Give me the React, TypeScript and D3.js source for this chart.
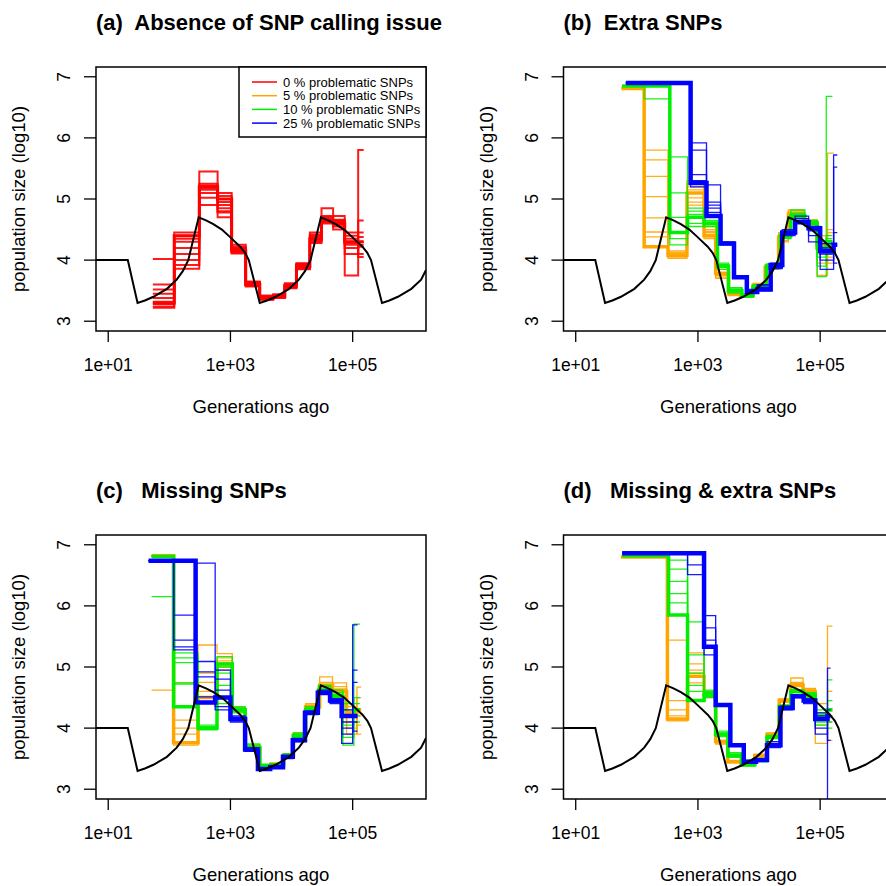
import React from "react";
import * as d3 from "d3";

// true demographic history (log10 generations, log10 Ne)
const truthLogGen = [0.8, 1.32, 1.48, 1.6, 1.74, 1.96, 2.12, 2.22, 2.31, 2.48, 2.6, 2.72, 2.86, 2.99, 3.16, 3.24, 3.3, 3.48, 3.6, 3.74, 3.96, 4.12, 4.22, 4.31, 4.48, 4.6, 4.72, 4.86, 4.99, 5.16, 5.24, 5.3, 5.48, 5.6, 5.74, 5.96, 6.12, 6.2];
const truthLogNe = [4.0, 4.0, 3.3, 3.34, 3.4, 3.53, 3.68, 3.82, 4.0, 4.7, 4.65, 4.59, 4.5, 4.38, 4.22, 4.12, 4.0, 3.3, 3.34, 3.4, 3.53, 3.68, 3.82, 4.0, 4.7, 4.65, 4.59, 4.5, 4.38, 4.22, 4.12, 4.0, 3.3, 3.34, 3.4, 3.53, 3.68, 3.84];

// (a) 0 % problematic SNPs
const aRedBreaks = [1.73, 2.08, 2.49, 2.79, 3.02, 3.25, 3.48, 3.7, 3.89, 4.08, 4.3, 4.49, 4.68, 4.87, 5.09, 5.18];
const aRedMain = [3.3, 4.4, 5.2, 5.0, 4.15, 3.6, 3.38, 3.4, 3.58, 3.9, 4.35, 4.65, 4.6, 4.3, 4.3];
const aRedReps = [
  [4.02, 4.45, 5.25, 4.95, 4.18, 3.62, 3.38, 3.4, 3.58, 3.92, 4.4, 4.7, 4.65, 4.35, 5.8],
  [3.6, 4.3, 5.45, 5.1, 4.12, 3.6, 3.36, 3.42, 3.6, 3.95, 4.3, 4.85, 4.72, 4.45, 4.65],
  [3.52, 4.2, 5.2, 4.85, 4.22, 3.65, 3.4, 3.38, 3.55, 3.88, 4.45, 4.62, 4.55, 4.2, 4.45],
  [3.45, 4.1, 5.15, 5.05, 4.15, 3.58, 3.35, 3.4, 3.62, 3.85, 4.35, 4.6, 4.62, 3.75, 4.3],
  [3.38, 4.0, 4.9, 4.78, 4.25, 3.62, 3.42, 3.44, 3.56, 3.9, 4.28, 4.68, 4.58, 4.3, 4.1],
  [3.32, 3.92, 5.1, 4.9, 4.14, 3.64, 3.37, 3.39, 3.58, 3.93, 4.38, 4.65, 4.6, 4.28, 4.22],
  [3.28, 4.4, 5.22, 5.0, 4.2, 3.6, 3.39, 3.41, 3.6, 3.86, 4.42, 4.66, 4.66, 4.4, 4.05],
  [3.24, 3.86, 5.18, 4.7, 4.16, 3.57, 3.36, 3.43, 3.54, 3.91, 4.32, 4.63, 4.5, 4.1, 4.38],
  [3.22, 4.35, 5.02, 4.8, 4.11, 3.63, 3.41, 3.4, 3.59, 3.94, 4.34, 4.72, 4.64, 4.25, 4.25],
];

// (b) extra SNPs
const bOrangeBreaks = [1.75, 2.12, 2.51, 2.82, 3.1, 3.29, 3.5, 3.7, 3.9, 4.1, 4.32, 4.48, 4.73, 4.95, 5.12, 5.22];
const bOrangeMain = [6.81, 4.22, 4.08, 5.1, 4.4, 3.78, 3.45, 3.42, 3.58, 3.88, 4.38, 4.75, 4.62, 4.25, 4.2];
const bOrangeReps = [
  [6.81, 5.8, 4.05, 5.25, 4.5, 3.85, 3.48, 3.4, 3.55, 3.9, 4.45, 4.8, 4.65, 4.4, 5.75],
  [6.81, 5.64, 4.12, 5.3, 4.35, 3.72, 3.42, 3.44, 3.6, 3.85, 4.32, 4.72, 4.6, 3.75, 4.45],
  [6.81, 5.37, 4.15, 5.02, 4.45, 3.8, 3.5, 3.41, 3.57, 3.92, 4.4, 4.78, 4.66, 4.1, 4.3],
  [6.81, 5.04, 4.03, 4.95, 4.55, 3.75, 3.44, 3.43, 3.62, 3.87, 4.36, 4.7, 4.58, 4.3, 4.05],
  [6.81, 4.69, 4.1, 5.15, 4.38, 3.88, 3.46, 3.39, 3.56, 3.89, 4.3, 4.76, 4.63, 3.95, 4.5],
  [6.81, 4.46, 4.07, 5.2, 4.42, 3.7, 3.47, 3.42, 3.59, 3.86, 4.42, 4.82, 4.61, 4.2, 3.95],
  [6.81, 4.38, 4.13, 4.9, 4.47, 3.76, 3.45, 3.41, 3.58, 3.88, 4.37, 4.74, 4.62, 4.15, 4.25],
];
const bGreenBreaks = [1.76, 2.12, 2.54, 2.83, 3.1, 3.32, 3.5, 3.72, 3.9, 4.12, 4.35, 4.52, 4.75, 4.95, 5.1, 5.2];
const bGreenMain = [6.85, 6.85, 4.45, 4.7, 4.6, 3.9, 3.5, 3.42, 3.55, 3.9, 4.4, 4.72, 4.6, 4.2, 4.3];
const bGreenReps = [
  [6.85, 6.64, 5.69, 4.85, 4.62, 3.95, 3.55, 3.4, 3.55, 3.92, 4.45, 4.82, 4.65, 3.73, 6.68],
  [6.85, 6.85, 5.1, 4.6, 4.55, 3.85, 3.46, 3.44, 3.58, 3.88, 4.35, 4.75, 4.55, 4.3, 4.4],
  [6.85, 6.85, 4.7, 4.75, 4.65, 3.88, 3.52, 3.41, 3.52, 3.94, 4.38, 4.7, 4.62, 4.05, 4.25],
  [6.85, 6.85, 4.35, 4.55, 4.58, 3.92, 3.48, 3.43, 3.6, 3.86, 4.42, 4.68, 4.58, 4.15, 4.1],
  [6.85, 6.85, 4.25, 4.8, 4.62, 3.93, 3.54, 3.39, 3.56, 3.91, 4.36, 4.77, 4.64, 3.9, 4.35],
];
const bBlueBreaks = [1.82, 2.88, 3.14, 3.37, 3.59, 3.8, 3.97, 4.19, 4.38, 4.59, 4.81, 5.0, 5.22, 5.28];
const bBlueMain = [6.9, 5.26, 4.72, 4.27, 3.72, 3.48, 3.52, 3.92, 4.45, 4.62, 4.52, 4.15, 4.25];
const bBlueReps = [
  [6.9, 5.92, 5.23, 4.27, 3.72, 3.5, 3.55, 3.95, 4.5, 4.72, 4.55, 3.85, 5.72],
  [6.9, 5.8, 4.95, 4.3, 3.7, 3.46, 3.6, 3.88, 4.4, 4.65, 4.5, 4.27, 5.52],
  [6.9, 5.4, 4.85, 4.25, 3.74, 3.52, 3.5, 3.9, 4.42, 4.6, 4.48, 4.0, 4.45],
  [6.9, 5.3, 4.78, 4.28, 3.71, 3.49, 3.58, 3.93, 4.47, 4.68, 4.3, 4.2, 4.25],
  [6.9, 5.2, 4.9, 4.26, 3.73, 3.47, 3.53, 3.86, 4.44, 4.63, 4.4, 4.1, 3.95],
];

// (c) missing SNPs
const cOrangeBreaks = [1.71, 2.07, 2.47, 2.78, 3.03, 3.24, 3.48, 3.66, 3.87, 4.03, 4.23, 4.46, 4.67, 4.9, 5.07, 5.14];
const cOrangeMain = [6.82, 3.76, 4.5, 5.05, 4.3, 3.68, 3.38, 3.41, 3.56, 3.88, 4.35, 4.7, 4.6, 4.25, 4.3];
const cOrangeReps = [
  [4.62, 3.72, 5.36, 5.22, 4.32, 3.7, 3.4, 3.39, 3.58, 3.9, 4.4, 4.84, 4.74, 3.9, 4.67],
  [6.82, 4.13, 4.9, 5.1, 4.28, 3.66, 3.37, 3.42, 3.54, 3.86, 4.38, 4.75, 4.68, 4.1, 4.5],
  [6.82, 4.0, 4.75, 5.0, 4.34, 3.72, 3.39, 3.4, 3.57, 3.92, 4.33, 4.72, 4.62, 4.2, 3.9],
  [6.82, 3.9, 4.6, 4.95, 4.26, 3.64, 3.36, 3.41, 3.55, 3.87, 4.36, 4.68, 4.58, 4.35, 4.2],
  [6.82, 4.74, 4.4, 5.15, 4.31, 3.69, 3.38, 3.43, 3.56, 3.89, 4.34, 4.66, 4.64, 4.0, 4.05],
];
const cGreenBreaks = [1.71, 2.07, 2.47, 2.78, 3.03, 3.24, 3.48, 3.66, 3.87, 4.03, 4.23, 4.44, 4.64, 4.84, 5.02, 5.12];
const cGreenMain = [6.81, 4.35, 4.0, 5.05, 4.3, 3.68, 3.38, 3.4, 3.55, 3.88, 4.3, 4.62, 4.52, 4.2, 4.3];
const cGreenReps = [
  [6.15, 5.23, 4.02, 5.17, 4.35, 3.72, 3.4, 3.38, 3.57, 3.9, 4.35, 4.68, 4.55, 3.72, 5.7],
  [6.81, 5.07, 3.98, 5.0, 4.28, 3.65, 3.36, 3.42, 3.53, 3.86, 4.28, 4.6, 4.58, 4.4, 4.5],
  [6.81, 4.74, 4.05, 4.9, 4.25, 3.7, 3.39, 3.41, 3.56, 3.92, 4.32, 4.64, 4.5, 4.05, 4.2],
  [6.81, 5.15, 3.97, 4.7, 4.33, 3.62, 3.37, 3.39, 3.54, 3.85, 4.26, 4.7, 4.48, 3.85, 4.1],
  [6.81, 4.72, 4.01, 4.4, 4.31, 3.74, 3.41, 3.4, 3.58, 3.89, 4.33, 4.58, 4.62, 4.3, 4.4],
];
const cBlueBreaks = [1.66, 2.07, 2.43, 2.75, 3.0, 3.24, 3.45, 3.65, 3.86, 4.02, 4.22, 4.43, 4.63, 4.82, 5.0, 5.08];
const cBlueMain = [6.74, 6.74, 4.42, 4.5, 4.15, 3.65, 3.33, 3.36, 3.53, 3.8, 4.25, 4.58, 4.45, 4.2, 4.2];
const cBlueReps = [
  [6.74, 6.74, 6.7, 4.3, 4.18, 3.62, 3.34, 3.38, 3.5, 3.82, 4.28, 4.55, 4.48, 3.75, 5.69],
  [6.74, 5.85, 5.09, 4.95, 4.12, 3.66, 3.32, 3.35, 3.55, 3.78, 4.22, 4.6, 4.42, 4.0, 4.95],
  [6.74, 5.44, 4.92, 4.8, 4.2, 3.68, 3.35, 3.37, 3.52, 3.81, 4.26, 4.62, 4.44, 4.3, 4.75],
  [6.74, 5.33, 4.84, 4.62, 4.1, 3.63, 3.33, 3.36, 3.54, 3.79, 4.24, 4.57, 4.4, 3.9, 4.1],
  [6.74, 5.28, 4.51, 4.35, 4.16, 3.64, 3.34, 3.39, 3.51, 3.83, 4.27, 4.56, 4.46, 4.1, 3.95],
];

// (d) missing & extra SNPs
const dOrangeBreaks = [1.74, 2.5, 2.83, 3.1, 3.29, 3.49, 3.71, 3.93, 4.13, 4.33, 4.52, 4.72, 4.92, 5.12, 5.2];
const dOrangeMain = [6.8, 4.15, 4.85, 4.55, 3.78, 3.45, 3.42, 3.55, 3.9, 4.45, 4.7, 4.6, 4.2, 4.3];
const dOrangeReps = [
  [6.8, 5.44, 5.23, 4.58, 3.8, 3.47, 3.4, 3.56, 3.92, 4.47, 4.82, 4.65, 3.75, 5.67],
  [6.8, 4.45, 5.05, 4.5, 3.74, 3.44, 3.43, 3.54, 3.88, 4.42, 4.75, 4.62, 4.4, 4.6],
  [6.8, 4.3, 4.95, 4.6, 3.76, 3.46, 3.41, 3.57, 3.91, 4.48, 4.72, 4.58, 4.05, 4.1],
  [6.8, 4.2, 4.74, 4.52, 3.79, 3.43, 3.44, 3.53, 3.89, 4.44, 4.68, 4.64, 4.25, 3.8],
  [6.8, 4.12, 4.9, 4.56, 3.77, 3.45, 3.42, 3.55, 3.9, 4.46, 4.73, 4.61, 4.15, 4.2],
];
const dGreenBreaks = [1.76, 2.52, 2.83, 3.1, 3.29, 3.49, 3.71, 3.93, 4.13, 4.33, 4.52, 4.72, 4.92, 5.12, 5.2];
const dGreenMain = [6.82, 5.85, 4.45, 4.55, 3.9, 3.55, 3.4, 3.47, 3.85, 4.35, 4.6, 4.55, 4.2, 4.3];
const dGreenReps = [
  [6.82, 6.75, 5.74, 4.6, 3.95, 3.58, 3.42, 3.46, 3.88, 4.38, 4.62, 4.52, 4.3, 4.79],
  [6.82, 6.6, 5.2, 4.5, 3.88, 3.52, 3.39, 3.49, 3.83, 4.33, 4.58, 4.56, 4.1, 4.45],
  [6.82, 6.4, 4.9, 4.62, 3.92, 3.56, 3.41, 3.45, 3.86, 4.36, 4.63, 4.5, 4.05, 4.2],
  [6.82, 6.2, 4.6, 4.52, 3.86, 3.6, 3.4, 3.48, 3.84, 4.34, 4.59, 4.58, 4.25, 4.0],
  [6.82, 6.05, 4.7, 4.58, 3.91, 3.54, 3.38, 3.47, 3.87, 4.37, 4.61, 4.54, 4.15, 4.1],
];
const dBlueBreaks = [1.76, 2.83, 3.1, 3.29, 3.53, 3.75, 3.95, 4.13, 4.35, 4.55, 4.73, 4.92, 5.12, 5.17];
const dBlueMain = [6.86, 6.86, 5.33, 4.38, 3.72, 3.45, 3.48, 3.72, 4.33, 4.52, 4.45, 4.15, 4.2];
const dBlueReps = [
  [6.86, 6.86, 5.84, 4.4, 3.74, 3.46, 3.5, 3.75, 4.35, 4.54, 4.4, 4.0, 2.5],
  [6.86, 6.67, 5.64, 4.36, 3.7, 3.44, 3.47, 3.7, 4.3, 4.5, 4.48, 4.25, 4.98],
  [6.86, 6.51, 5.44, 4.39, 3.73, 3.47, 3.49, 3.68, 4.32, 4.53, 4.42, 3.9, 4.3],
  [6.86, 6.86, 5.2, 4.37, 3.71, 3.45, 3.46, 3.78, 4.36, 4.51, 4.46, 4.2, 3.8],
];

const legendLabels = ["0 % problematic SNPs", "5 % problematic SNPs", "10 % problematic SNPs", "25 % problematic SNPs"];
const RED = "#FF0000", ORANGE = "#FFA500", GREEN = "#00EE00", BLUE = "#0000FF";
const legendColors = [RED, ORANGE, GREEN, BLUE];
const xTicks = [10, 1000, 100000];
const yTicks = [3, 4, 5, 6, 7];

const FONT = "'Liberation Sans', Arial, Helvetica, sans-serif";
const plotLeft = 96, plotTop = 67, plotW = 330, plotH = 264;

const x = d3.scaleLog().domain([10 ** 0.8, 10 ** 6.2]).range([0, plotW]);
const y = d3.scaleLinear().domain([2.84, 7.16]).range([plotH, 0]);

const stepLine = d3
  .line<[number, number]>()
  .x((d) => x(10 ** d[0]))
  .y((d) => y(d[1]))
  .curve(d3.curveStepAfter);

const truthLine = d3
  .line<number>()
  .x((d) => x(10 ** d))
  .y((d, i) => y(truthLogNe[i]));

function stepPath(breaks: number[], vals: number[]) {
  const pts: [number, number][] = vals.map((v, i) => [breaks[i], v]);
  pts.push([breaks[vals.length], vals[vals.length - 1]]);
  return stepLine(pts) || "";
}

type Series = { color: string; breaks: number[]; main: number[]; reps: number[][]; thick: number };

const panels = [
  {
    id: "a", title: "(a)  Absence of SNP calling issue", dx: 0, dy: 0, legend: true, thin: 2,
    series: [{ color: RED, breaks: aRedBreaks, main: aRedMain, reps: aRedReps, thick: 3 }] as Series[],
  },
  {
    id: "b", title: "(b)  Extra SNPs", dx: 467.5, dy: 0, legend: false, thin: 1.3,
    series: [
      { color: ORANGE, breaks: bOrangeBreaks, main: bOrangeMain, reps: bOrangeReps, thick: 3.5 },
      { color: GREEN, breaks: bGreenBreaks, main: bGreenMain, reps: bGreenReps, thick: 3.5 },
      { color: BLUE, breaks: bBlueBreaks, main: bBlueMain, reps: bBlueReps, thick: 4.5 },
    ] as Series[],
  },
  {
    id: "c", title: "(c)   Missing SNPs", dx: 0, dy: 468, legend: false, thin: 1.3,
    series: [
      { color: ORANGE, breaks: cOrangeBreaks, main: cOrangeMain, reps: cOrangeReps, thick: 3.5 },
      { color: GREEN, breaks: cGreenBreaks, main: cGreenMain, reps: cGreenReps, thick: 3.5 },
      { color: BLUE, breaks: cBlueBreaks, main: cBlueMain, reps: cBlueReps, thick: 4.5 },
    ] as Series[],
  },
  {
    id: "d", title: "(d)   Missing & extra SNPs", dx: 467.5, dy: 468, legend: false, thin: 1.3,
    series: [
      { color: ORANGE, breaks: dOrangeBreaks, main: dOrangeMain, reps: dOrangeReps, thick: 3.5 },
      { color: GREEN, breaks: dGreenBreaks, main: dGreenMain, reps: dGreenReps, thick: 3.5 },
      { color: BLUE, breaks: dBlueBreaks, main: dBlueMain, reps: dBlueReps, thick: 4.5 },
    ] as Series[],
  },
];

const fmtTick = (d: number) => "1e+" + String(Math.round(Math.log10(d))).padStart(2, "0");

function Panel({ p }: { p: (typeof panels)[number] }) {
  return (
    <g transform={`translate(${p.dx},${p.dy})`}>
      <text x={plotLeft} y={30} fontSize={22} fontWeight="bold" style={{ whiteSpace: "pre" }}>
        {p.title}
      </text>
      <g transform={`translate(${plotLeft},${plotTop})`}>
        <clipPath id={`clip-${p.id}`}>
          <rect width={plotW} height={plotH} />
        </clipPath>
        <g clipPath={`url(#clip-${p.id})`} fill="none" strokeLinejoin="miter">
          {p.series.map((s, si) => (
            <g key={si} stroke={s.color}>
              {s.reps.map((r, ri) => (
                <path key={ri} d={stepPath(s.breaks, r)} strokeWidth={p.thin} opacity={0.9} />
              ))}
              <path d={stepPath(s.breaks, s.main)} strokeWidth={s.thick} />
            </g>
          ))}
          <path d={truthLine(truthLogGen) || ""} stroke="#000" strokeWidth={2} />
        </g>
        <rect width={plotW} height={plotH} fill="none" stroke="#000" strokeWidth={1.5} />
        {yTicks.map((t) => (
          <g key={t}>
            <line x1={-12} x2={0} y1={y(t)} y2={y(t)} stroke="#000" strokeWidth={1.3} />
            <text transform={`translate(-26,${y(t)}) rotate(-90)`} textAnchor="middle" fontSize={17.5}>
              {t}
            </text>
          </g>
        ))}
        {xTicks.map((t) => (
          <g key={t}>
            <line x1={x(t)} x2={x(t)} y1={plotH} y2={plotH + 11} stroke="#000" strokeWidth={1.3} />
            <text x={x(t)} y={plotH + 40} textAnchor="middle" fontSize={17.5}>
              {fmtTick(t)}
            </text>
          </g>
        ))}
        <text x={plotW / 2} y={plotH + 82} textAnchor="middle" fontSize={18.5}>
          Generations ago
        </text>
        <text transform={`translate(-71,${plotH / 2}) rotate(-90)`} textAnchor="middle" fontSize={18.5}>
          population size (log10)
        </text>
        {p.legend && (
          <g>
            <rect x={143} y={0} width={plotW - 143} height={70} fill="#fff" stroke="#000" strokeWidth={1.5} />
            {legendLabels.map((lab, i) => (
              <g key={lab} transform={`translate(0,${15 + i * 13.7})`}>
                <line x1={156} x2={181} stroke={legendColors[i]} strokeWidth={1.5} />
                <text x={187} y={4.5} fontSize={13}>
                  {lab}
                </text>
              </g>
            ))}
          </g>
        )}
      </g>
    </g>
  );
}

export default function App() {
  return (
    <svg
      width={886}
      height={886}
      style={{ position: "absolute", left: 0, top: 0, background: "#fff" }}
      fontFamily={FONT}
    >
      <rect width={886} height={886} fill="#fff" />
      {panels.map((p) => (
        <Panel key={p.id} p={p} />
      ))}
    </svg>
  );
}
